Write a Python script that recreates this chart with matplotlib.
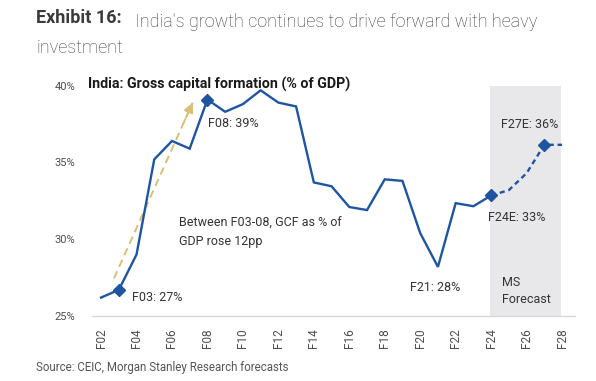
"""India gross capital formation (% of GDP), F02-F28 with MS forecast shading."""

import matplotlib
matplotlib.use("Agg")
import matplotlib.pyplot as plt
from matplotlib import font_manager

# ---- data ----
years = list(range(2, 29))  # fiscal years F02..F28
gcf_actual = [26.2, 26.7, 29.0, 35.2, 36.4, 35.9, 39.1, 38.3, 38.8, 39.7, 38.9,
              38.65, 33.7, 33.45, 32.1, 31.9, 33.9, 33.8, 30.4, 28.2, 32.35,
              32.15, 32.85]                      # F02..F24
gcf_forecast = [32.85, 33.2, 34.3, 36.15, 36.15]  # F24..F28
tick_years = list(range(2, 29, 2))
tick_labels = [f"F{y:02d}" for y in tick_years]
marked_years = [3, 8, 24, 27]
forecast_span = [23.95, 27.95]
arrow_start = [2.73, 27.45]
arrow_end = [7.17, 38.9]

BLUE = "#1f55a0"
GOLD = "#d8bf78"
SHADE = "#e8e8ea"
TXT = "#333333"

names = {f.name for f in font_manager.fontManager.ttflist}
NARROW = "Liberation Sans Narrow" if "Liberation Sans Narrow" in names else "Roboto"
plt.rcParams["font.family"] = ["Roboto", "DejaVu Sans"]

fig = plt.figure(figsize=(5.96, 3.81), dpi=100)
ax = fig.add_axes([92 / 596, 65 / 381, 483 / 596, 230.3 / 381])

ax.axvspan(*forecast_span, ymin=0, ymax=1, color=SHADE, lw=0, zorder=0)

yrs_act = years[:len(gcf_actual)]
yrs_fc = years[len(gcf_actual) - 1:]
ax.plot(yrs_act, gcf_actual, color=BLUE, lw=1.7, zorder=3, clip_on=False,
        solid_joinstyle="miter")
ax.plot(yrs_fc, gcf_forecast, color=BLUE, lw=1.7, ls=(0, (2.2, 1.6)), zorder=3,
        clip_on=False)
all_vals = dict(zip(years, gcf_actual[:-1] + gcf_forecast))
ax.plot(marked_years, [all_vals[y] for y in marked_years], ls="none", marker="D",
        ms=6, color=BLUE, zorder=4, clip_on=False)

# dashed gold trend arrow F03 -> F08
ax.plot([arrow_start[0], arrow_end[0]], [arrow_start[1], arrow_end[1]],
        color=GOLD, lw=1.4, ls=(0, (4, 2.5)), zorder=2)
ax.annotate("", xy=arrow_end,
            xytext=(arrow_end[0] - 0.12 * (arrow_end[0] - arrow_start[0]),
                    arrow_end[1] - 0.12 * (arrow_end[1] - arrow_start[1])),
            arrowprops=dict(arrowstyle="-|>,head_length=0.6,head_width=0.3",
                            color=GOLD, lw=1.2, shrinkA=0, shrinkB=0), zorder=2)

ax.set_xlim(1.49, 28.73)
ax.set_ylim(25, 40)
ax.set_yticks([25, 30, 35, 40])
ax.set_yticklabels(["25%", "30%", "35%", "40%"])
ax.set_xticks(tick_years)
ax.set_xticklabels(tick_labels, rotation=90)
ax.tick_params(axis="both", length=0, colors="#4d4d4d", labelsize=8.5)
ax.tick_params(axis="y", pad=12, labelsize=8)
ax.tick_params(axis="x", pad=9)
for lab in ax.get_xticklabels() + ax.get_yticklabels():
    lab.set_family([NARROW, "DejaVu Sans"])
for s in ["left", "right", "top"]:
    ax.spines[s].set_visible(False)
ax.spines["bottom"].set_color("#d6d6d6")
ax.spines["bottom"].set_linewidth(0.9)

ann = dict(fontsize=9, color=TXT, family=[NARROW, "DejaVu Sans"])
ax.text(3.75, 26.19, "F03: 27%", va="center", ha="left", **ann)
ax.text(8.02, 37.55, "F08: 39%", va="center", ha="left", **ann)
ax.text(6.4, 30.47, "Between F03-08, GCF as % of\nGDP rose 12pp", va="center",
        ha="left", linespacing=1.5, **ann)
ax.text(20.84, 26.88, "F21: 28%", va="center", ha="center", **ann)
ax.text(23.83, 31.43, "F24E: 33%", va="center", ha="left", **ann)
ax.text(24.56, 37.47, "F27E: 36%", va="center", ha="left", **ann)
ax.text(24.6, 26.62, "MS\nForecast", va="center", ha="left", linespacing=1.45, **ann)

fig.text(88 / 596, 1 - 88.3 / 381, "India: Gross capital formation (% of GDP)",
         fontsize=10.3, fontweight="bold", color="#1a1a1a", va="baseline",
         family=[NARROW, "DejaVu Sans"])

# header
t1 = fig.text(36.5 / 596, 1 - 23.3 / 381, "Exhibit 16:", fontsize=13,
              fontweight="bold", color="#3a3a3a", va="baseline")
ax.annotate("India's growth continues to drive forward with heavy", xy=(1, 0),
            xycoords=t1, xytext=(9, 0), textcoords="offset points",
            fontsize=13, fontweight="light", color="#3c3c3c", va="baseline",
            annotation_clip=False)
fig.text(36.5 / 596, 1 - 53 / 381, "investment", fontsize=13,
         fontweight="light", color="#3c3c3c", va="baseline")

fig.text(36 / 596, 1 - 367 / 381, "Source: CEIC, Morgan Stanley Research forecasts",
         fontsize=8.3, color="#555555", va="center")

fig.savefig("out.png", dpi=100)
